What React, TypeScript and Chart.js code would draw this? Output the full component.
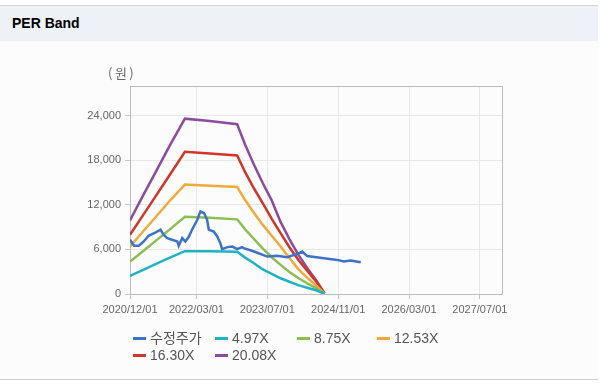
import React, { useEffect, useRef } from "react";
import { Chart, registerables } from "chart.js";

Chart.register(...registerables);

// x values are months since 2020/12/01
const tickMonths = [0, 15, 31, 47, 63, 79];
const tickLabels = ["2020/12/01", "2022/03/01", "2023/07/01", "2024/11/01", "2026/03/01", "2027/07/01"];
const yTicks = [0, 6000, 12000, 18000, 24000];

const bandMonths = [0, 3, 6, 9, 12.4, 18, 24.2, 26, 28, 30, 32, 34, 36, 38, 40, 42, 43.9];
const per497 = [2430, 3250, 4080, 4900, 5760, 5740, 5700, 4900, 4150, 3300, 2700, 2120, 1650, 1200, 850, 500, 30];
const per875 = [4365, 5800, 7250, 8700, 10400, 10250, 10050, 8700, 7400, 6100, 4950, 3920, 2950, 2150, 1450, 800, 40];
const per1253 = [6390, 8450, 10500, 12550, 14730, 14580, 14400, 12650, 10900, 9300, 7850, 6390, 4850, 3350, 2200, 1150, 60];
const per1630 = [7970, 10650, 13350, 16050, 19150, 18900, 18650, 16400, 14200, 12200, 10100, 8200, 6300, 4600, 3150, 1700, 90];
const per2008 = [9900, 13300, 16650, 20000, 23600, 23300, 22850, 20100, 17400, 14900, 12600, 9700, 7400, 5300, 3500, 1900, 100];

const priceMonths = [0, 0.9, 2.0, 3.1, 4.2, 5.8, 6.9, 7.6, 8.4, 9.5, 10.7, 11.0, 11.8, 12.5, 13.3, 14.0, 15.2, 15.9, 16.7, 17.4, 17.8, 18.9, 19.7, 20.4, 20.8, 22.0, 23.1, 24.2, 25.3, 25.7, 28.0, 31.0, 33.2, 35.5, 37.8, 38.9, 40.0, 43.8, 46.8, 48.3, 49.8, 52.1];
const priceValues = [7300, 6500, 6500, 7070, 7840, 8300, 8650, 7970, 7530, 7300, 7070, 6490, 7530, 7070, 7740, 8650, 10000, 11120, 10900, 10000, 8650, 8420, 7740, 6850, 6040, 6310, 6390, 6040, 6310, 6170, 5720, 5040, 5135, 4960, 5400, 5720, 5100, 4820, 4590, 4365, 4500, 4280];

const seriesNames = ["수정주가", "4.97X", "8.75X", "12.53X", "16.30X", "20.08X"];
const seriesColors = ["#3d72c8", "#1fb3c2", "#8cbd52", "#f0aa3a", "#cf3529", "#8c4c9e"];

const FONT = "'Liberation Sans', Arial, 'Noto Sans CJK KR', sans-serif";

const toPoints = (xs: number[], ys: number[]) => xs.map((x, i) => ({ x, y: ys[i] }));

const framePlugin = {
  id: "frame",
  beforeDatasetsDraw(chart: any) {
    const { ctx, chartArea } = chart;
    ctx.save();
    ctx.strokeStyle = "#bcbcbc";
    ctx.lineWidth = 1;
    ctx.beginPath();
    ctx.moveTo(Math.round(chartArea.left) + 0.5, Math.round(chartArea.top) + 0.5);
    ctx.lineTo(Math.round(chartArea.right) + 0.5, Math.round(chartArea.top) + 0.5);
    ctx.lineTo(Math.round(chartArea.right) + 0.5, Math.round(chartArea.bottom) + 0.5);
    ctx.stroke();
    ctx.restore();
  },
};

export default function App() {
  const ref = useRef<HTMLCanvasElement | null>(null);

  useEffect(() => {
    if (!ref.current) return;
    const bands = [per497, per875, per1253, per1630, per2008];
    const datasets = [
      {
        label: seriesNames[0],
        data: toPoints(priceMonths, priceValues),
        borderColor: seriesColors[0],
        backgroundColor: seriesColors[0],
      },
      ...bands.map((b, i) => ({
        label: seriesNames[i + 1],
        data: toPoints(bandMonths, b),
        borderColor: seriesColors[i + 1],
        backgroundColor: seriesColors[i + 1],
      })),
    ].map((d) => ({ ...d, borderWidth: 2.5, pointRadius: 0, tension: 0, fill: false }));

    const chart = new Chart(ref.current, {
      type: "line",
      data: { datasets },
      options: {
        animation: false,
        responsive: false,
        maintainAspectRatio: false,
        layout: { padding: { left: 0, top: 86, right: 104, bottom: 0 } },
        plugins: { legend: { display: false }, tooltip: { enabled: false }, title: { display: false } },
        scales: {
          x: {
            type: "linear",
            min: 0,
            max: 84,
            afterBuildTicks: (scale: any) => {
              scale.ticks = tickMonths.map((v) => ({ value: v }));
            },
            afterFit: (scale: any) => {
              scale.height = 94;
            },
            ticks: {
              autoSkip: false,
              maxRotation: 0,
              padding: 4,
              color: "#666",
              font: { family: FONT, size: 11 },
              callback: (v: any) => {
                const i = tickMonths.indexOf(Number(v));
                return i >= 0 ? tickLabels[i] : "";
              },
            },
            grid: { color: "#e8e8e8", tickLength: 5, tickColor: "#c8c8c8" },
            border: { color: "#bcbcbc" },
          },
          y: {
            type: "linear",
            min: 0,
            max: 28000,
            afterBuildTicks: (scale: any) => {
              scale.ticks = yTicks.map((v) => ({ value: v }));
            },
            afterFit: (scale: any) => {
              scale.width = 130;
            },
            ticks: {
              padding: 4,
              color: "#666",
              font: { family: FONT, size: 11 },
              callback: (v: any) => Number(v).toLocaleString("en-US"),
            },
            grid: { color: "#e8e8e8", tickLength: 5, tickColor: "#c8c8c8" },
            border: { color: "#bcbcbc" },
          },
        },
      },
      plugins: [framePlugin],
    } as any);
    return () => chart.destroy();
  }, []);

  const legendRows = [
    [0, 1, 2, 3],
    [4, 5],
  ];
  const colX = [133, 215, 297, 377];
  const rowY = [330, 347];

  return (
    <div style={{ position: "absolute", left: 0, top: 0, width: 606, height: 388, background: "#fff", overflow: "hidden" }}>
      <div style={{ position: "absolute", left: 0, top: 5, width: 598, height: 1, background: "#d2d5da" }} />
      <div style={{ position: "absolute", left: 0, top: 6, width: 598, height: 35, background: "#eef2f7" }} />
      <div
        style={{
          position: "absolute",
          left: 12,
          top: 6,
          height: 35,
          lineHeight: "35px",
          fontFamily: FONT,
          fontWeight: "bold",
          fontSize: 14,
          color: "#000",
        }}
      >
        PER Band
      </div>
      <div style={{ position: "absolute", left: 0, top: 41, width: 598, height: 338, background: "#fcfcfc" }} />
      <div style={{ position: "absolute", left: 0, top: 379, width: 598, height: 1, background: "#cfcfcf" }} />
      <canvas ref={ref} width={606} height={388} style={{ position: "absolute", left: 0, top: 0, width: 606, height: 388 }} />
      <div
        style={{
          position: "absolute",
          left: 108,
          top: 64,
          fontFamily: "'Noto Sans CJK KR', sans-serif",
          fontSize: 13,
          letterSpacing: 2.5,
          color: "#666",
          lineHeight: "18px",
        }}
      >
        (원)
      </div>
      {legendRows.map((row, r) =>
        row.map((si, c) => (
          <div
            key={si}
            style={{
              position: "absolute",
              left: colX[c],
              top: rowY[r],
              height: 17,
              display: "flex",
              alignItems: "center",
              whiteSpace: "nowrap",
            }}
          >
            <span style={{ display: "inline-block", width: 13, height: 3, background: seriesColors[si], marginRight: 4 }} />
            <span style={{ fontFamily: "Arial, 'Liberation Sans', 'Noto Sans CJK KR', sans-serif", fontSize: 14, color: "#555", lineHeight: "17px" }}>
              {seriesNames[si]}
            </span>
          </div>
        ))
      )}
    </div>
  );
}
